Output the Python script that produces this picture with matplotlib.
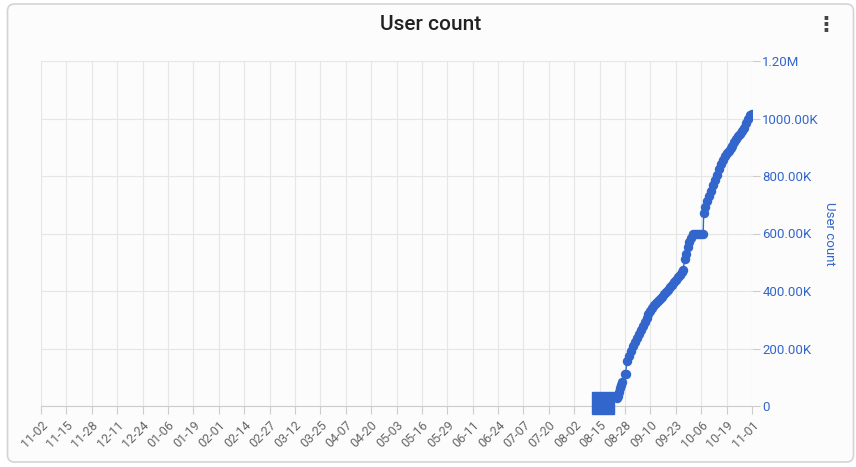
import pandas as pd
import matplotlib
matplotlib.use('Agg')
import matplotlib.pyplot as plt
import matplotlib.dates as mdates
from matplotlib.patches import FancyBboxPatch

plt.rcParams['font.family'] = ['Roboto', 'DejaVu Sans']

blue = '#3366cc'

# one big square point sitting at the start of the series
blob_date = ['2023-08-16 16:00']
blob_users = [12000]

dates = ['2023-08-24 00:00', '2023-08-24 12:00', '2023-08-25 00:00', '2023-08-25 12:00',
         '2023-08-26 00:00', '2023-08-26 12:00', '2023-08-27 18:00', '2023-08-28 06:00',
         '2023-08-29', '2023-08-30', '2023-08-31', '2023-09-01', '2023-09-02',
         '2023-09-03', '2023-09-04', '2023-09-05', '2023-09-06', '2023-09-07',
         '2023-09-08', '2023-09-09', '2023-09-10', '2023-09-11', '2023-09-12',
         '2023-09-13', '2023-09-14', '2023-09-15', '2023-09-16', '2023-09-17',
         '2023-09-18', '2023-09-19', '2023-09-20', '2023-09-21', '2023-09-22',
         '2023-09-23', '2023-09-24', '2023-09-25', '2023-09-26', '2023-09-26 18:00',
         '2023-09-27 12:00', '2023-09-28', '2023-09-29', '2023-09-30', '2023-10-01',
         '2023-10-02', '2023-10-03', '2023-10-04', '2023-10-05', '2023-10-06',
         '2023-10-07 00:00', '2023-10-07 06:00', '2023-10-08', '2023-10-09',
         '2023-10-10', '2023-10-11', '2023-10-12', '2023-10-13', '2023-10-14',
         '2023-10-15', '2023-10-16', '2023-10-17', '2023-10-18', '2023-10-19',
         '2023-10-20', '2023-10-21', '2023-10-22', '2023-10-23', '2023-10-24',
         '2023-10-25', '2023-10-26', '2023-10-27', '2023-10-28', '2023-10-29',
         '2023-10-30', '2023-10-31', '2023-11-01']
users = [28000, 36000, 50000, 62000,
         72000, 84000, 110000, 112000,
         158000, 175000, 192000, 210000, 224000,
         238000, 250000, 263000, 277000, 291000,
         305000, 319000, 331000, 341000, 350000,
         358000, 365000, 372000, 380000, 388000,
         396000, 405000, 413000, 422000, 430000,
         439000, 448000, 456000, 466000, 473000,
         510000, 530000, 553000, 570000, 585000,
         597000, 597000, 597000, 597000, 597000,
         597000, 670000, 693000, 712000,
         730000, 748000, 768000, 785000, 803000,
         823000, 842000, 857000, 868000, 879000,
         888000, 897000, 906000, 917000, 929000,
         938000, 947000, 957000, 968000, 983000,
         1000000, 1013000, 1016000]

x_start = '2022-11-02'
x_end = '2023-11-01'
tick_step = '13D'
y_ticks = [0, 200000, 400000, 600000, 800000, 1000000, 1200000]
y_tick_labels = ['0', '200.00K', '400.00K', '600.00K', '800.00K', '1000.00K', '1.20M']

fig = plt.figure(figsize=(8.56, 4.67), dpi=100)
fig.patch.set_facecolor('white')

card = FancyBboxPatch((0.075, 0.05), 8.46, 4.58, boxstyle='round,pad=0,rounding_size=0.07',
                      transform=fig.dpi_scale_trans, facecolor='#fcfcfc',
                      edgecolor='#d4d4d4', linewidth=1.2, zorder=-5)
fig.patches.append(card)

fig.text(0.503, 0.948, 'User count', ha='center', va='center', fontsize=15,
         fontweight='medium', color='#222222')
fig.text(0.965, 0.948, '⋮', ha='center', va='center', fontsize=15, fontweight='bold',
         color='#444444', family=['DejaVu Sans'])

ax = fig.add_axes([41 / 856, 1 - 406 / 467, 711 / 856, 345 / 467])
ax.set_facecolor('none')

x = pd.to_datetime(dates, format='mixed')
ax.plot(x, users, color=blue, linewidth=1, marker='o', markersize=5.8, zorder=3)
ax.plot(pd.to_datetime(blob_date), blob_users, color=blue, marker='s', markersize=16.5,
        linestyle='none', clip_on=False, zorder=3)

ticks = pd.date_range(x_start, x_end, freq=tick_step)
ax.set_xlim(pd.Timestamp(x_start), pd.Timestamp(x_end))
ax.set_xticks(ticks)
ax.xaxis.set_major_formatter(mdates.DateFormatter('%m-%d'))
plt.setp(ax.get_xticklabels(), rotation=45, ha='right', rotation_mode='anchor')

ax.set_ylim(0, 1200000)
ax.set_yticks(y_ticks)
ax.set_yticklabels(y_tick_labels)
ax.yaxis.tick_right()
ax.yaxis.set_label_position('right')
ax.set_ylabel('User count', rotation=270, color=blue, fontsize=9.5, labelpad=12)

ax.tick_params(axis='x', colors='#cccccc', labelcolor='#666666', labelsize=9,
               length=6, pad=3)
ax.tick_params(axis='y', colors='#cccccc', labelcolor=blue, labelsize=9.5,
               length=6, pad=1.5)

ax.grid(True, color='#e6e6e6', linewidth=0.8, zorder=0)
for side in ['top', 'left', 'right']:
    ax.spines[side].set_visible(False)
ax.spines['bottom'].set_color('#cccccc')

fig.savefig('out.png', dpi=100)
